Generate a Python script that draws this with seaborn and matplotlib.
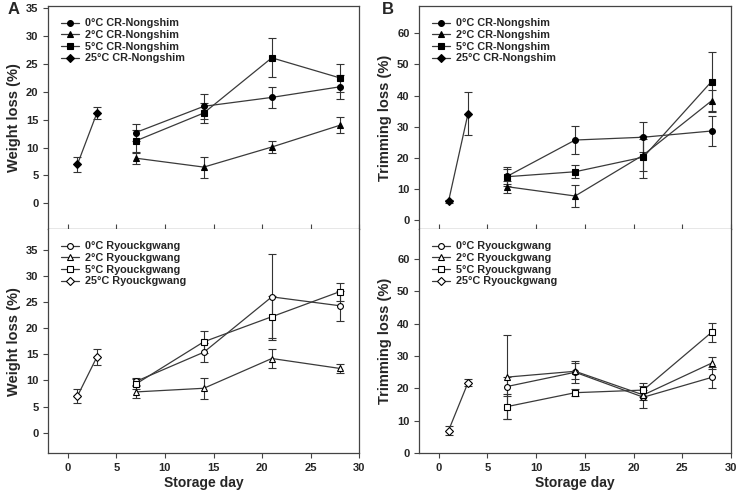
import matplotlib
matplotlib.use("Agg")
import matplotlib.pyplot as plt
import seaborn as sns
import pandas as pd

sns.set_style("ticks")
plt.rcParams['font.family'] = ['Liberation Sans', 'DejaVu Sans']
plt.rcParams['font.weight'] = 'bold'

# ---- data ----
days = [7, 14, 21, 28]
days25 = [1, 3]

# A top: weight loss, CR-Nongshim
w_n_0 = [12.7, 17.4, 19.0, 20.9]; w_n_0_err = [1.5, 2.3, 1.9, 2.1]
w_n_2 = [8.1, 6.5, 10.1, 14.0];   w_n_2_err = [1.0, 1.9, 1.1, 1.4]
w_n_5 = [11.2, 16.2, 26.1, 22.5]; w_n_5_err = [2.0, 1.8, 3.5, 2.5]
w_n_25 = [7.0, 16.2];             w_n_25_err = [1.4, 1.0]

# A bottom: weight loss, Ryouckgwang
w_r_0 = [9.8, 15.4, 26.0, 24.3];  w_r_0_err = [0.6, 1.8, 8.2, 2.9]
w_r_2 = [7.8, 8.5, 14.2, 12.3];   w_r_2_err = [1.2, 2.0, 1.8, 0.8]
w_r_5 = [9.3, 17.4, 22.2, 27.0];  w_r_5_err = [1.0, 2.1, 4.0, 1.7]
w_r_25 = [7.0, 14.5];             w_r_25_err = [1.3, 1.5]

# B top: trimming loss, CR-Nongshim
t_n_0 = [14.0, 25.7, 26.6, 28.6]; t_n_0_err = [2.5, 4.5, 4.8, 4.8]
t_n_2 = [10.7, 7.7, 20.9, 38.3];  t_n_2_err = [1.9, 3.5, 5.0, 3.5]
t_n_5 = [13.9, 15.5, 20.2, 44.5]; t_n_5_err = [3.0, 2.1, 6.7, 9.5]
t_n_25 = [6.0, 34.2];             t_n_25_err = [0.4, 6.8]

# B bottom: trimming loss, Ryouckgwang
t_r_0 = [20.6, 25.0, 17.3, 23.4]; t_r_0_err = [3.0, 3.4, 3.4, 3.3]
t_r_2 = [23.5, 25.3, 18.0, 27.8]; t_r_2_err = [13.0, 2.5, 1.5, 1.9]
t_r_5 = [14.4, 18.7, 19.5, 37.3]; t_r_5_err = [3.8, 1.0, 2.1, 3.0]
t_r_25 = [7.0, 21.8];             t_r_25_err = [1.3, 1.0]

temps = ['0°C', '2°C', '5°C', '25°C']
markers = ['o', '^', 's', 'D']
msizes = [4.2, 4.6, 4.3, 3.8]

fig = plt.figure(figsize=(7.42, 4.9), dpi=100)
axA1 = fig.add_axes([0.0651, 0.5327, 0.4191, 0.4551])
axA2 = fig.add_axes([0.0651, 0.0749, 0.4191, 0.4578])
axB1 = fig.add_axes([0.5651, 0.5327, 0.4201, 0.4551])
axB2 = fig.add_axes([0.5651, 0.0749, 0.4201, 0.4578])

panels = [
    (axA1, [w_n_0, w_n_2, w_n_5, w_n_25], [w_n_0_err, w_n_2_err, w_n_5_err, w_n_25_err], 'CR-Nongshim', True),
    (axA2, [w_r_0, w_r_2, w_r_5, w_r_25], [w_r_0_err, w_r_2_err, w_r_5_err, w_r_25_err], 'Ryouckgwang', False),
    (axB1, [t_n_0, t_n_2, t_n_5, t_n_25], [t_n_0_err, t_n_2_err, t_n_5_err, t_n_25_err], 'CR-Nongshim', True),
    (axB2, [t_r_0, t_r_2, t_r_5, t_r_25], [t_r_0_err, t_r_2_err, t_r_5_err, t_r_25_err], 'Ryouckgwang', False),
]

for ax, vals, errs, cultivar, filled in panels:
    for i, (v, e) in enumerate(zip(vals, errs)):
        x = days25 if i == 3 else days
        df = pd.DataFrame({'day': x, 'val': v})
        ax.errorbar(x, v, yerr=e, fmt='none', ecolor='#333333', elinewidth=0.8,
                    capsize=2.6, capthick=0.8, zorder=2)
        sns.lineplot(data=df, x='day', y='val', ax=ax, color='#3a3a3a', linewidth=0.9,
                     marker=markers[i], markersize=msizes[i],
                     markerfacecolor='black' if filled else 'white',
                     markeredgecolor='black', markeredgewidth=0.8,
                     label=f'{temps[i]} {cultivar}', zorder=3)
    ax.set_xlim(-2, 30)
    ax.set_xticks([0, 5, 10, 15, 20, 25, 30])
    for s in ax.spines.values():
        s.set_color('#444444')
        s.set_linewidth(0.9)
    ax.tick_params(axis='both', labelsize=8, width=0.8, length=3.5, color='#444444')
    for lab in ax.get_yticklabels() + ax.get_xticklabels():
        lab.set_fontweight('bold')
    leg = ax.legend(loc='upper left', frameon=False, fontsize=7.8, handlelength=1.7,
                    handletextpad=0.5, labelspacing=0.15, borderaxespad=0.75)
    for t in leg.get_texts():
        t.set_fontweight('bold')
    ax.set_xlabel('')
    ax.set_ylabel('')

for ax in (axA1, axB1):
    ax.tick_params(axis='x', direction='in', labelbottom=False)
for ax in (axA2, axB2):
    ax.spines['top'].set_visible(False)
    ax.set_xlabel('Storage day', fontsize=10, fontweight='bold', labelpad=2)

axA1.set_ylim(-4.6, 35.4)
axA1.set_yticks([0, 5, 10, 15, 20, 25, 30, 35])
axA2.set_ylim(-3.95, 39.0)
axA2.set_yticks([0, 5, 10, 15, 20, 25, 30, 35])
axB1.set_ylim(-2.9, 68.8)
axB1.set_yticks([0, 10, 20, 30, 40, 50, 60])
axB2.set_ylim(0, 69.2)
axB2.set_yticks([0, 10, 20, 30, 40, 50, 60])

for ax in (axA1, axA2):
    ax.set_ylabel('Weight loss (%)', fontsize=10.5, fontweight='bold', labelpad=4)
for ax in (axB1, axB2):
    ax.set_ylabel('Trimming loss (%)', fontsize=10.5, fontweight='bold', labelpad=4)

fig.text(0.010, 0.995, 'A', fontsize=12, fontweight='bold', va='top', ha='left')
fig.text(0.515, 0.995, 'B', fontsize=12, fontweight='bold', va='top', ha='left')

fig.savefig('out.png', dpi=100)
